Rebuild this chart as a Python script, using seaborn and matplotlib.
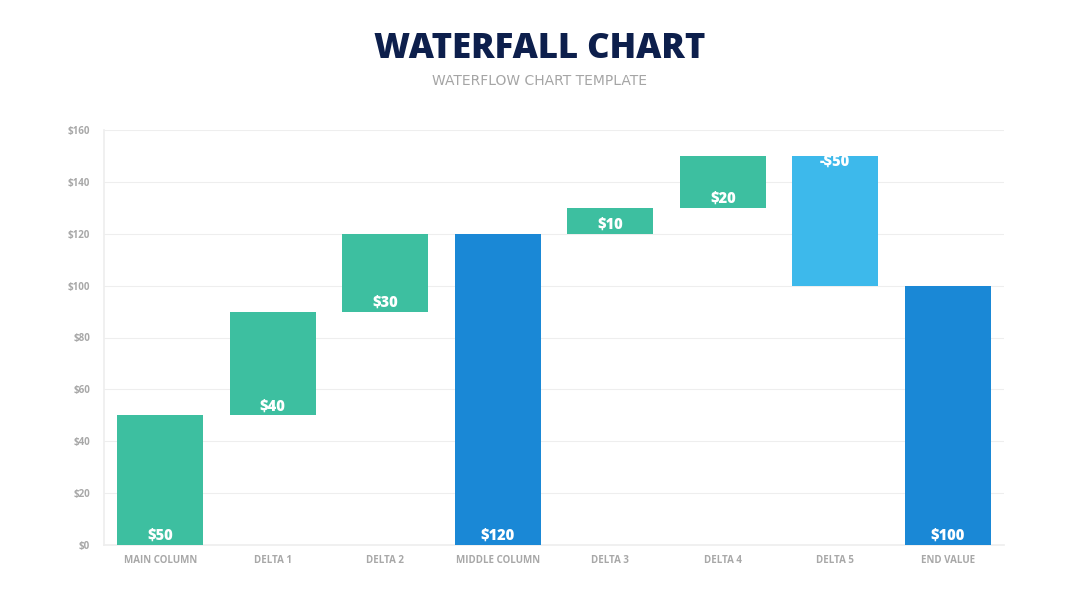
import matplotlib
matplotlib.use("Agg")
import matplotlib.pyplot as plt
import seaborn as sns

categories = ["MAIN COLUMN", "DELTA 1", "DELTA 2", "MIDDLE COLUMN",
              "DELTA 3", "DELTA 4", "DELTA 5", "END VALUE"]
values = [50, 40, 30, 120, 10, 20, -50, 100]
bases = [0, 50, 90, 0, 120, 130, 150, 0]
labels = ["$50", "$40", "$30", "$120", "$10", "$20", "-$50", "$100"]
kinds = ["delta", "delta", "delta", "total", "delta", "delta", "neg", "total"]
yticks = [0, 20, 40, 60, 80, 100, 120, 140, 160]

colors = {"delta": "#3DBFA0", "total": "#1A88D6", "neg": "#3DB9EB"}

sns.set_theme(style="white")
plt.rcParams["font.family"] = ["Open Sans", "DejaVu Sans"]

fig = plt.figure(figsize=(10.8, 6.08), dpi=100)
ax = fig.add_axes([104 / 1080, 1 - 545 / 608, 900 / 1080, 415 / 608])

for cat, v, b, k in zip(categories, values, bases, kinds):
    sns.barplot(x=[cat], y=[v], bottom=b, color=colors[k], order=categories,
                width=0.764, saturation=1, ax=ax, zorder=3, linewidth=0)

px = 160 / 415.0
for i, (v, b, lab) in enumerate(zip(values, bases, labels)):
    if v >= 0:
        y = b + 9 * px
    else:
        y = b - 6 * px
    ax.text(i, y, lab, ha="center", va="center", color="white",
            fontsize=10.5, fontweight="heavy", zorder=4)

ax.set_ylim(0, 160)
ax.set_xlim(-0.5, len(categories) - 0.5)
ax.set_yticks(yticks)
ax.set_yticklabels([f"${t}" for t in yticks])
ax.set_xlabel("")
ax.set_ylabel("")
ax.grid(axis="y", color="#EEEEEE", linewidth=0.8, zorder=0)
ax.set_axisbelow(True)
for s in ["top", "right"]:
    ax.spines[s].set_visible(False)
ax.spines["left"].set_color("#EEEEEE")
ax.spines["bottom"].set_color("#EEEEEE")
ax.tick_params(axis="both", length=0, colors="#A8A8A8", labelsize=7)
ax.tick_params(axis="x", pad=7)
ax.tick_params(axis="y", pad=10)
for t in ax.get_xticklabels() + ax.get_yticklabels():
    t.set_fontweight("bold")
    t.set_color("#A8A8A8")

fig.text(0.5, 1 - 49 / 608, "WATERFALL CHART", ha="center", va="center",
         fontsize=25, fontweight="heavy", color="#0D1F4C")
fig.text(0.5, 1 - 81 / 608, "WATERFLOW CHART TEMPLATE",
         ha="center", va="center", fontsize=10, color="#A5A5A5",
         family=["DejaVu Sans"])

fig.savefig("out.png", dpi=100, facecolor="white")
